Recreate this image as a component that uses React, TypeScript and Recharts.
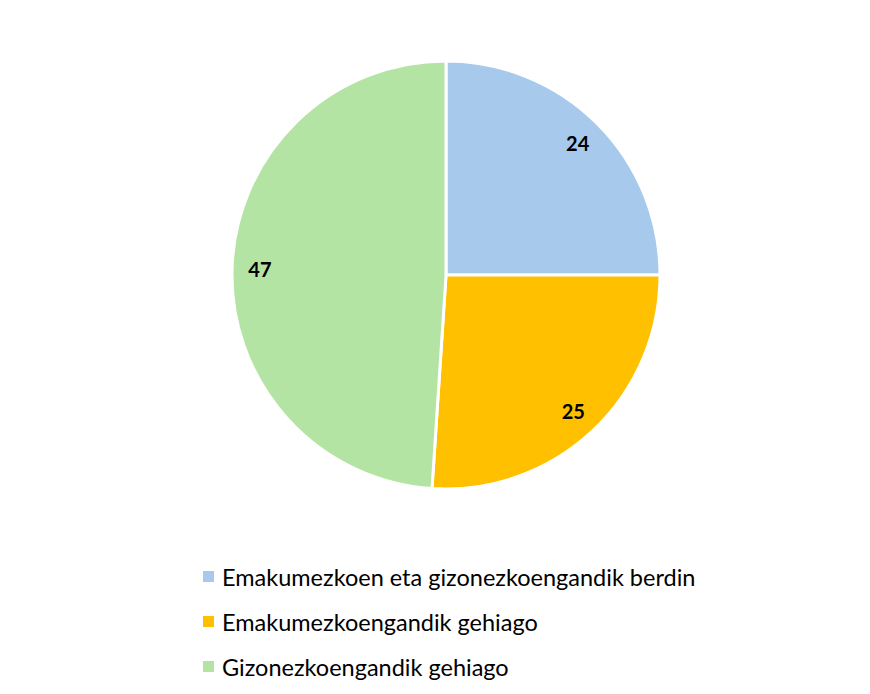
import React from 'react';
import { PieChart, Pie, Cell, Legend } from 'recharts';

const categories = [
    'Emakumezkoen eta gizonezkoengandik berdin',
    'Emakumezkoengandik gehiago',
    'Gizonezkoengandik gehiago',
];
const values = [24, 25, 47];
const colors = ['#A7CAEC', '#FFC000', '#B4E4A3'];

const data = categories.map((name, i) => ({ name, value: values[i] }));

const RAD = Math.PI / 180;
const FONT = 'Lato, "Open Sans", sans-serif';

const renderLabel = (props: any) => {
    const { cx, cy, midAngle, outerRadius, value } = props;
    const r = outerRadius * 0.87;
    const x = cx + r * Math.cos(-midAngle * RAD);
    const y = cy + r * Math.sin(-midAngle * RAD);
    return (
        <text x={x} y={y} fill="#000" fontSize={20} fontWeight="bold" fontFamily={FONT}
            textAnchor="middle" dominantBaseline="central">
            {value}
        </text>
    );
};

const renderLegend = () => (
    <div style={{ fontFamily: FONT, fontSize: 23.5, color: '#000' }}>
        {data.map((d, i) => (
            <div key={d.name} style={{ display: 'flex', alignItems: 'center', height: 45 }}>
                <span style={{ width: 11, height: 11, background: colors[i], marginRight: 8, display: 'inline-block' }} />
                <span>{d.name}</span>
            </div>
        ))}
    </div>
);

export default function App() {
    return (
        <div style={{ position: 'absolute', left: 0, top: 0, width: 870, height: 694, background: '#fff' }}>
            <PieChart width={870} height={694}>
                <Pie
                    data={data}
                    dataKey="value"
                    cx={441}
                    cy={270}
                    outerRadius={214}
                    startAngle={90}
                    endAngle={-270}
                    stroke="#fff"
                    strokeWidth={3}
                    label={renderLabel}
                    labelLine={false}
                    isAnimationActive={false}
                >
                    {data.map((d, i) => (
                        <Cell key={d.name} fill={colors[i]} />
                    ))}
                </Pie>
                <Legend
                    layout="vertical"
                    content={renderLegend}
                    wrapperStyle={{ left: 203, top: 554, width: 620 }}
                />
            </PieChart>
        </div>
    );
}
